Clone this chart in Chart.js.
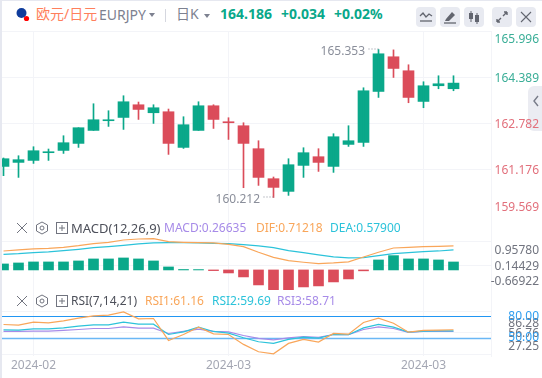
<!DOCTYPE html>
<html>
<head>
<meta charset="utf-8">
<script src="https://cdn.jsdelivr.net/npm/chart.js@4"></script>
<style>
  html, body { margin: 0; padding: 0; background: #fff; }
  body { width: 542px; height: 378px; overflow: hidden; position: relative; font-family: "Noto Sans", "Noto Sans CJK SC", sans-serif; }
  .abs { position: absolute; white-space: nowrap; line-height: 16px; }
  #edgeTop { position: absolute; left: 0; top: 0; width: 542px; height: 1px; background: #e6e8f0; }
  #edgeLeft { position: absolute; left: 0; top: 0; width: 2px; height: 378px; background: #e6e8f0; }
  #tab { position: absolute; left: 528px; top: 86px; width: 14px; height: 45px; background: #ebecf2; border-radius: 6px 0 0 6px; }
  #plots { position: absolute; left: 2px; top: 0; width: 540px; height: 378px; overflow: hidden; }
  #plots canvas { position: absolute; left: -6px; }
  .btn { position: absolute; top: 7px; width: 20px; height: 20px; background: #e8eaf1; border-radius: 4px; }
  .btn svg, .mini { display: block; position: absolute; }
  .tri { position: absolute; width: 0; height: 0; border-left: 3px solid transparent; border-right: 3px solid transparent; border-top: 4px solid #7d8190; }
</style>
</head>
<body>
<div id="tab"><svg width="14" height="45" style="position:absolute;left:0;top:0"><path d="M10 10 L6 15 L10 20" fill="none" stroke="#777b88" stroke-width="1.4"/></svg></div>
<div id="plots">
  <canvas id="mainChart" width="546" height="185" style="top:31px"></canvas>
  <canvas id="macdChart" width="546" height="74" style="top:216px"></canvas>
  <canvas id="rsiChart" width="546" height="88" style="top:290px"></canvas>
</div>
<div id="edgeTop"></div>
<div id="edgeLeft"></div>

<!-- cabecera -->
<svg class="mini" style="left:15px;top:7px" width="18" height="16">
  <circle cx="6.5" cy="6" r="5" fill="#0f3c9c"/>
  <circle cx="11.5" cy="11.5" r="2.6" fill="#f00"/>
</svg>
<div class="abs" style="left:36px;top:6px;font-size:14px;color:#ff7f5c">欧元/日元</div>
<div class="abs" style="left:99px;top:7px;font-size:14px;color:#7d8190">EURJPY</div>
<div class="tri" style="left:149px;top:13px"></div>
<div class="abs" style="left:165px;top:9px;width:1px;height:13px;background:#d5d7df"></div>
<div class="abs" style="left:176px;top:6px;font-size:14px;color:#7d8190">日K</div>
<div class="tri" style="left:204px;top:14px"></div>
<div class="abs" style="left:220px;top:6px;font-size:14px;font-weight:700;color:#0aa88a">164.186</div>
<div class="abs" style="left:281px;top:6px;font-size:14px;font-weight:700;color:#0aa88a">+0.034</div>
<div class="abs" style="left:334px;top:6px;font-size:14px;font-weight:700;color:#0aa88a">+0.02%</div>

<div class="btn" style="left:416px"><svg width="20" height="20"><path d="M4 9 L7 6 L10 10 L13 7 L16 9" fill="none" stroke="#62656f" stroke-width="1.3"/><path d="M4 14 H16" stroke="#62656f" stroke-width="1.3"/></svg></div>
<div class="btn" style="left:440px"><svg width="20" height="20"><path d="M6 12 L12 5 L15 8 L9 14 L5 14 Z" fill="#62656f"/><path d="M4 16 H16" stroke="#62656f" stroke-width="1.3"/></svg></div>
<div class="btn" style="left:464px"><svg width="20" height="20"><path d="M7 4 V15 M13 6 V17" stroke="#62656f" stroke-width="1"/><rect x="5" y="6" width="4" height="6" fill="#62656f"/><rect x="11" y="8" width="4" height="7" fill="#62656f"/></svg></div>
<div class="btn" style="left:492px"><svg width="20" height="20"><path d="M11 9 L15 5 M15 5 H12 M15 5 V8 M9 11 L5 15 M5 15 H8 M5 15 V12" fill="none" stroke="#62656f" stroke-width="1.4"/></svg></div>
<div class="btn" style="left:516px"><svg width="20" height="20"><path d="M5 5 L15 15 M15 5 L5 15" stroke="#62656f" stroke-width="1.1"/></svg></div>

<!-- leyendas de los paneles -->
<svg class="mini" style="left:15px;top:221px" width="56" height="14">
  <path d="M2 2 L12 12 M12 2 L2 12" stroke="#71747f" stroke-width="1"/>
  <path d="M27 1 L32.5 4 V10 L27 13 L21.5 10 V4 Z" fill="none" stroke="#71747f" stroke-width="1"/><circle cx="27" cy="7" r="2" fill="none" stroke="#71747f"/>
  <rect x="41.5" y="1.5" width="11" height="11" fill="none" stroke="#71747f"/><path d="M47 4 V10 M44 7 H50" stroke="#71747f"/>
</svg>
<div class="abs" style="left:71px;top:220px;font-size:13px;color:#4d505a">MACD(12,26,9)</div>
<div class="abs" style="left:164px;top:220px;font-size:12px;color:#a78be8">MACD:0.26635</div>
<div class="abs" style="left:256px;top:220px;font-size:12px;color:#f9a65a">DIF:0.71218</div>
<div class="abs" style="left:330px;top:220px;font-size:12px;color:#2cc3da">DEA:0.57900</div>

<svg class="mini" style="left:15px;top:294px" width="56" height="14">
  <path d="M2 2 L12 12 M12 2 L2 12" stroke="#71747f" stroke-width="1"/>
  <path d="M27 1 L32.5 4 V10 L27 13 L21.5 10 V4 Z" fill="none" stroke="#71747f" stroke-width="1"/><circle cx="27" cy="7" r="2" fill="none" stroke="#71747f"/>
  <rect x="41.5" y="1.5" width="11" height="11" fill="none" stroke="#71747f"/><path d="M47 4 V10 M44 7 H50" stroke="#71747f"/>
</svg>
<div class="abs" style="left:71px;top:293px;font-size:12px;color:#4d505a">RSI(7,14,21)</div>
<div class="abs" style="left:145px;top:293px;font-size:12px;color:#f9a65a">RSI1:61.16</div>
<div class="abs" style="left:212px;top:293px;font-size:12px;color:#2cc3da">RSI2:59.69</div>
<div class="abs" style="left:277px;top:293px;font-size:12px;color:#a78be8">RSI3:58.71</div>

<script>
// Datos
const categories = ['', '', '2024-02', '', '', '', '', '', '', '', '', '', '', '', '', '2024-03', '', '', '', '', '', '', '', '', '', '', '', '', '2024-03', '', '', '', ''];

const opens = [161.292, 161.431, 161.500, 161.768, 161.847, 162.091, 162.542, 162.879, 162.993, 163.434, 163.156, 163.191, 161.952, 162.542, 163.399, 162.844, 162.705, 161.907, 160.865, 160.424, 161.327, 161.629, 161.292, 162.056, 162.125, 163.896, 165.101, 164.615, 163.549, 164.094, 163.990];
const highs = [161.584, 161.663, 161.976, 161.896, 162.358, 162.636, 163.469, 163.226, 163.747, 163.528, 163.434, 163.285, 163.018, 163.538, 163.434, 162.983, 162.809, 162.184, 160.924, 161.559, 161.941, 161.907, 162.427, 162.705, 164.024, 165.353, 165.340, 164.823, 164.233, 164.441, 164.441];
const lows = [160.969, 160.910, 161.396, 161.500, 161.743, 161.952, 162.542, 162.681, 162.577, 162.924, 162.785, 161.709, 161.917, 162.542, 162.611, 162.229, 160.552, 160.632, 160.212, 160.285, 160.910, 161.118, 161.084, 161.986, 161.986, 163.688, 164.382, 163.504, 163.330, 163.990, 163.920];
const closes = [161.559, 161.525, 161.837, 161.802, 162.115, 162.636, 162.913, 162.913, 163.538, 163.271, 163.330, 162.091, 162.740, 163.399, 162.924, 162.809, 162.091, 160.910, 160.563, 161.351, 161.768, 161.431, 162.323, 162.184, 163.920, 165.205, 164.695, 163.688, 164.094, 164.163, 164.186];

const macdBars = [0.2, 0.233, 0.267, 0.267, 0.267, 0.3, 0.367, 0.367, 0.4, 0.367, 0.3, 0.1, 0.015, 0.012, -0.022, -0.1, -0.233, -0.5, -0.667, -0.669, -0.567, -0.533, -0.4, -0.3, -0.03, 0.333, 0.478, 0.367, 0.367, 0.333, 0.266];
const difLine = [0.633, 0.667, 0.7, 0.722, 0.756, 0.811, 0.878, 0.922, 1.0, 1.033, 1.044, 0.944, 0.922, 0.911, 0.9, 0.856, 0.778, 0.589, 0.422, 0.311, 0.256, 0.211, 0.233, 0.267, 0.433, 0.589, 0.733, 0.756, 0.778, 0.789, 0.8];
const deaLine = [0.522, 0.544, 0.578, 0.6, 0.644, 0.689, 0.744, 0.778, 0.822, 0.867, 0.9, 0.911, 0.911, 0.9, 0.889, 0.878, 0.844, 0.8, 0.744, 0.644, 0.578, 0.5, 0.433, 0.4, 0.411, 0.478, 0.544, 0.578, 0.611, 0.633, 0.667];

const rsi1 = [68.5, 67.5, 71.7, 70.8, 73.5, 77.2, 80.5, 81.4, 86, 76.3, 76.8, 46.3, 54.6, 64.8, 55.5, 54.6, 40.8, 30.6, 27.8, 42.2, 47.7, 44, 56, 55.1, 71.2, 77.2, 70.3, 57.8, 60.2, 60.6, 61.16];
const rsi2 = [61.1, 60.6, 62.5, 62.5, 63.8, 66.2, 68, 68, 71.7, 68.9, 68.9, 54.6, 58.3, 64.8, 58.8, 56.5, 50, 44.5, 42.2, 47.7, 50.9, 49.5, 54.6, 54.2, 63.8, 68.5, 64.8, 57.8, 59.2, 59.7, 59.69];
const rsi3 = [58.8, 58.8, 59.2, 59.2, 60.2, 61.5, 62.9, 62.9, 65.2, 63.4, 63.4, 56, 58.8, 62, 58.8, 58.3, 53.2, 49.1, 47.2, 50, 51.8, 50.5, 54.6, 54.2, 61.5, 65.2, 62.9, 57.4, 58.8, 58.8, 58.71];

const priceTicks = [165.996, 164.389, 162.782, 161.176, 159.569];
const macdTicks = [0.95780, 0.14429, -0.66922];
const rsiTicks = [86.28, 56.76, 27.25];
const rsiLevels = [80, 50];

const GREEN = '#0aa88a';
const RED = '#db4c5a';
const GRID = '#f3f4f8';
const FONT = '"Noto Sans", "Noto Sans CJK SC", sans-serif';

const candleColors = closes.map((c, i) => (c >= opens[i] ? GREEN : RED));
const macdColors = macdBars.map(v => (v >= 0 ? GREEN : RED));

// Etiquetas del eje derecho: la primera y la ultima van desplazadas hacia dentro
const sideLabels = {
  id: 'sideLabels',
  afterDraw(chart, args, opts) {
    const { ctx, scales } = chart;
    const n = opts.values.length;
    ctx.save();
    ctx.font = '12px ' + FONT;
    ctx.textAlign = 'right';
    ctx.textBaseline = 'middle';
    opts.values.forEach((v, i) => {
      let y = scales.y.getPixelForValue(v) + 1;
      if (i === 0) y += opts.topShift;
      if (i === n - 1) y -= 9;
      ctx.fillStyle = typeof opts.color === 'function' ? opts.color(i) : opts.color;
      ctx.fillText(opts.format(v), 543, y);
    });
    ctx.restore();
  },
};

// Maximo y minimo visibles con su linea de puntos
const extremeNotes = {
  id: 'extremeNotes',
  afterDatasetsDraw(chart) {
    const { ctx, scales } = chart;
    const hi = Math.max(...highs);
    const lo = Math.min(...lows);
    [[hi, highs.indexOf(hi), 2], [lo, lows.indexOf(lo), 2]].forEach(([val, idx, dy]) => {
      const x = scales.x.getPixelForValue(idx);
      const y = scales.y.getPixelForValue(val);
      ctx.save();
      ctx.strokeStyle = '#8a8e9a';
      ctx.setLineDash([1, 2]);
      ctx.beginPath();
      ctx.moveTo(x - 10, y - 0.5);
      ctx.lineTo(x, y - 0.5);
      ctx.stroke();
      ctx.setLineDash([]);
      ctx.font = '12px ' + FONT;
      ctx.fillStyle = '#8a8e9a';
      ctx.textAlign = 'right';
      ctx.textBaseline = 'middle';
      ctx.fillText(val.toFixed(3), x - 13.5, y + dy);
      ctx.restore();
    });
  },
};

// Lineas azules de nivel del RSI
const levelLines = {
  id: 'levelLines',
  beforeDatasetsDraw(chart) {
    const { ctx, scales, chartArea } = chart;
    ctx.save();
    rsiLevels.forEach((v, i) => {
      const y = Math.round(scales.y.getPixelForValue(v)) + 0.5;
      ctx.strokeStyle = i === 0 ? '#2196f3' : '#6ab7f5';
      ctx.lineWidth = i === 0 ? 1 : 1.5;
      ctx.beginPath();
      ctx.moveTo(chartArea.left, y);
      ctx.lineTo(chartArea.right, y);
      ctx.stroke();
    });
    ctx.restore();
  },
  afterDraw(chart) {
    const { ctx, scales } = chart;
    ctx.save();
    ctx.font = '12px ' + FONT;
    ctx.textAlign = 'right';
    ctx.textBaseline = 'middle';
    ctx.fillStyle = '#2d9df0';
    rsiLevels.forEach(v => ctx.fillText(v.toFixed(2), 543, scales.y.getPixelForValue(v)));
    ctx.restore();
  },
};

function xAxis(showLabels) {
  return {
    offset: true,
    grid: {
      offset: false,
      drawTicks: false,
      color: c => (categories[c.index] ? GRID : 'transparent'),
    },
    border: { display: false },
    ticks: {
      display: showLabels,
      autoSkip: false,
      maxRotation: 0,
      padding: 2,
      color: '#a4a7b3',
      font: { family: FONT, size: 12 },
      callback: (v, i) => categories[i],
    },
    afterFit: s => { s.height = showLabels ? 22 : 0; },
  };
}

function yAxis(min, max, values) {
  return {
    position: 'right',
    min,
    max,
    grid: { color: GRID, drawTicks: false },
    border: { display: true, color: GRID },
    ticks: { display: false },
    afterBuildTicks: s => { s.ticks = values.map(value => ({ value })); },
    afterFit: s => { s.width = 51; },
  };
}

function baseOptions(x, y, extra) {
  return {
    responsive: false,
    animation: false,
    events: [],
    layout: { padding: 0 },
    scales: { x, y },
    plugins: Object.assign({ legend: { display: false }, tooltip: { enabled: false } }, extra),
  };
}

function lineSet(data, color) {
  return { type: 'line', data, borderColor: color, borderWidth: 1.2, pointRadius: 0, tension: 0, fill: false };
}

new Chart(document.getElementById('mainChart').getContext('2d'), {
  type: 'bar',
  data: {
    labels: categories,
    datasets: [
      { data: lows.map((l, i) => [l, highs[i]]), backgroundColor: candleColors, barThickness: 1, grouped: false },
      { data: opens.map((o, i) => [o, closes[i]]), backgroundColor: candleColors, barThickness: 11, grouped: false },
    ],
  },
  options: baseOptions(xAxis(false), yAxis(159.569, 165.996, priceTicks), {
    sideLabels: {
      values: priceTicks,
      topShift: 8,
      color: i => (i < 2 ? '#3aae97' : '#e2707c'),
      format: v => v.toFixed(3),
    },
  }),
  plugins: [sideLabels, extremeNotes],
});

new Chart(document.getElementById('macdChart').getContext('2d'), {
  type: 'bar',
  data: {
    labels: categories,
    datasets: [
      lineSet(difLine, '#f9a65a'),
      lineSet(deaLine, '#2cc3da'),
      { data: macdBars, backgroundColor: macdColors, barThickness: 10 },
    ],
  },
  options: baseOptions(xAxis(false), yAxis(-0.66922, 1.8, macdTicks), {
    sideLabels: { values: macdTicks, topShift: 8, color: '#71747f', format: v => v.toFixed(5) },
  }),
  plugins: [sideLabels],
});

new Chart(document.getElementById('rsiChart').getContext('2d'), {
  type: 'line',
  data: {
    labels: categories,
    datasets: [lineSet(rsi1, '#f9a65a'), lineSet(rsi2, '#2cc3da'), lineSet(rsi3, '#a78be8')],
  },
  options: baseOptions(xAxis(true), yAxis(24.7, 116.4, rsiTicks), {
    sideLabels: { values: rsiTicks, topShift: 11, color: '#71747f', format: v => v.toFixed(2) },
  }),
  plugins: [sideLabels, levelLines],
});
</script>
</body>
</html>
